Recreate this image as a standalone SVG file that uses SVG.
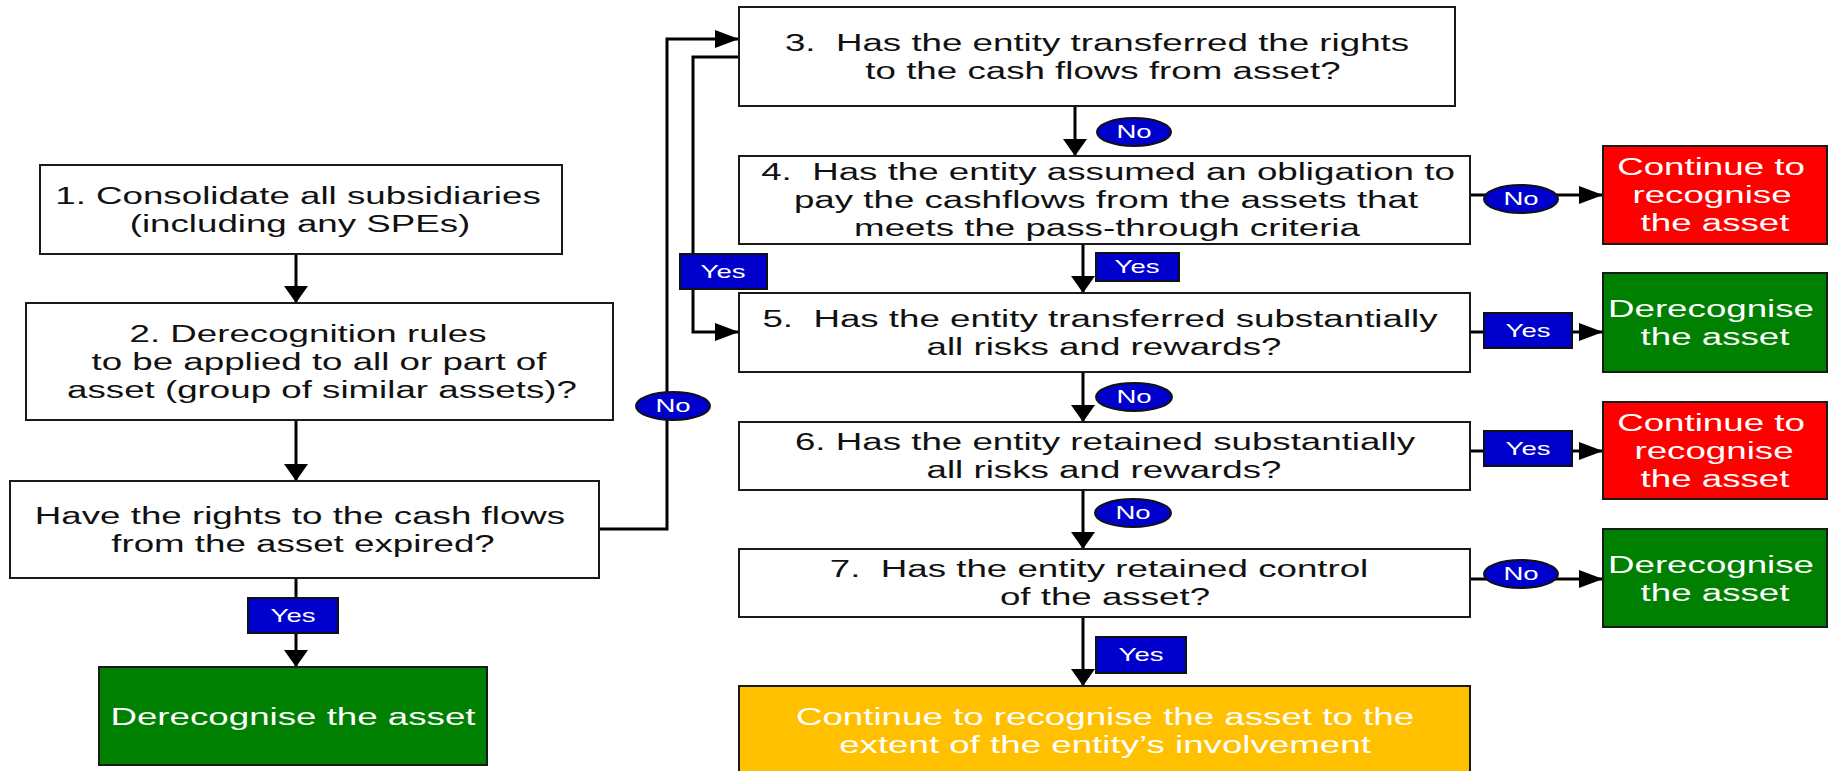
<svg xmlns="http://www.w3.org/2000/svg" width="1831" height="771" viewBox="0 0 1831 771">
<style>
.box{fill:#fff;stroke:#1a1a1a;stroke-width:2}
.red{fill:#ff0000;stroke:#1a1a1a;stroke-width:2}
.green{fill:#008000;stroke:#1a1a1a;stroke-width:2}
.orange{fill:#ffc000;stroke:#1a1a1a;stroke-width:2}
.t{font-family:"Liberation Sans",Arial,sans-serif;font-size:24px;text-anchor:middle;white-space:pre;fill:#111}
.w{fill:#fff}
.lab{fill:#0000cc;stroke:#111;stroke-width:2}
.lt{font-family:"Liberation Sans",Arial,sans-serif;font-size:18px;text-anchor:middle;fill:#fff}
.c{fill:none;stroke:#000;stroke-width:3}
.ch{fill:none;stroke:#000;stroke-width:3;marker-end:url(#ah)}
.cv{fill:none;stroke:#000;stroke-width:3;marker-end:url(#av)}
</style>
<defs>
<marker id="ah" markerUnits="userSpaceOnUse" markerWidth="24" markerHeight="18" refX="24" refY="9" orient="auto"><path d="M0,0 L24,9 L0,18 Z" fill="#000"/></marker>
<marker id="av" markerUnits="userSpaceOnUse" markerWidth="17" markerHeight="24" refX="17" refY="12" orient="auto"><path d="M0,0 L17,12 L0,24 Z" fill="#000"/></marker>
</defs>
<rect width="1831" height="771" fill="#fff"/>

<g id="connectors">
<path class="cv" d="M296,254 V303"/>
<path class="cv" d="M296,420 V481"/>
<path class="cv" d="M296,578 V667"/>
<path class="ch" d="M593,529 H667 V39 H739"/>
<path class="ch" d="M739,57 H693 V332 H739"/>
<path class="cv" d="M1075,106 V156"/>
<path class="ch" d="M1470,195 H1603"/>
<path class="cv" d="M1083,244 V293"/>
<path class="ch" d="M1470,332 H1603"/>
<path class="cv" d="M1083,372 V422"/>
<path class="ch" d="M1470,451 H1603"/>
<path class="cv" d="M1083,490 V549"/>
<path class="ch" d="M1470,579 H1603"/>
<path class="cv" d="M1083,617 V686"/>
</g>

<g id="n1"><rect class="box" x="40" y="165" width="522" height="89"/>
<text class="t" transform="translate(298,204) scale(1.53,1)">1. Consolidate all subsidiaries</text>
<text class="t" transform="translate(300,232) scale(1.53,1)">(including any SPEs)</text></g>

<g id="n2"><rect class="box" x="26" y="303" width="587" height="117"/>
<text class="t" transform="translate(308,342) scale(1.53,1)">2. Derecognition rules</text>
<text class="t" transform="translate(319,370) scale(1.53,1)">to be applied to all or part of</text>
<text class="t" transform="translate(322,398) scale(1.53,1)">asset (group of similar assets)?</text></g>

<g id="nq"><rect class="box" x="10" y="481" width="589" height="97"/>
<text class="t" transform="translate(300,524) scale(1.53,1)">Have the rights to the cash flows</text>
<text class="t" transform="translate(303,552) scale(1.53,1)">from the asset expired?</text></g>

<g id="g1"><rect class="green" x="99" y="667" width="388" height="98"/>
<text class="t w" transform="translate(293,725) scale(1.53,1)">Derecognise the asset</text></g>

<g id="n3"><rect class="box" x="739" y="7" width="716" height="99"/>
<text class="t" transform="translate(1097,51) scale(1.53,1)">3.  Has the entity transferred the rights</text>
<text class="t" transform="translate(1103,79) scale(1.53,1)">to the cash flows from asset?</text></g>

<g id="n4"><rect class="box" x="739" y="156" width="731" height="88"/>
<text class="t" transform="translate(1108,180) scale(1.53,1)">4.  Has the entity assumed an obligation to</text>
<text class="t" transform="translate(1106,208) scale(1.53,1)">pay the cashflows from the assets that</text>
<text class="t" transform="translate(1107,236) scale(1.53,1)">meets the pass-through criteria</text></g>

<g id="n5"><rect class="box" x="739" y="293" width="731" height="79"/>
<text class="t" transform="translate(1100,327) scale(1.53,1)">5.  Has the entity transferred substantially</text>
<text class="t" transform="translate(1104,355) scale(1.53,1)">all risks and rewards?</text></g>

<g id="n6"><rect class="box" x="739" y="422" width="731" height="68"/>
<text class="t" transform="translate(1105,450) scale(1.53,1)">6. Has the entity retained substantially</text>
<text class="t" transform="translate(1104,478) scale(1.53,1)">all risks and rewards?</text></g>

<g id="n7"><rect class="box" x="739" y="549" width="731" height="68"/>
<text class="t" transform="translate(1099,577) scale(1.53,1)">7.  Has the entity retained control</text>
<text class="t" transform="translate(1105,605) scale(1.53,1)">of the asset?</text></g>

<g id="no"><rect class="orange" x="739" y="686" width="731" height="95"/>
<text class="t w" transform="translate(1105,725) scale(1.53,1)">Continue to recognise the asset to the</text>
<text class="t w" transform="translate(1105,753) scale(1.53,1)">extent of the entity’s involvement</text></g>

<g id="r1"><rect class="red" x="1603" y="146" width="224" height="98"/>
<text class="t w" transform="translate(1711,175) scale(1.53,1)">Continue to</text>
<text class="t w" transform="translate(1712,203) scale(1.53,1)">recognise</text>
<text class="t w" transform="translate(1715,231) scale(1.53,1)">the asset</text></g>

<g id="g2"><rect class="green" x="1603" y="273" width="224" height="99"/>
<text class="t w" transform="translate(1711,317) scale(1.53,1)">Derecognise</text>
<text class="t w" transform="translate(1715,345) scale(1.53,1)">the asset</text></g>

<g id="r2"><rect class="red" x="1603" y="402" width="224" height="97"/>
<text class="t w" transform="translate(1711,431) scale(1.53,1)">Continue to</text>
<text class="t w" transform="translate(1714,459) scale(1.53,1)">recognise</text>
<text class="t w" transform="translate(1715,487) scale(1.53,1)">the asset</text></g>

<g id="g3"><rect class="green" x="1603" y="529" width="224" height="98"/>
<text class="t w" transform="translate(1711,573) scale(1.53,1)">Derecognise</text>
<text class="t w" transform="translate(1715,601) scale(1.53,1)">the asset</text></g>

<g id="labels">
<g id="l1"><rect class="lab" x="248" y="598" width="90" height="35"/><text class="lt" transform="translate(293,622) scale(1.53,1)">Yes</text></g>
<g id="l2"><ellipse class="lab" cx="673" cy="406" rx="37" ry="14"/><text class="lt" transform="translate(673,412) scale(1.53,1)">No</text></g>
<g id="l3"><rect class="lab" x="680" y="254" width="87" height="35"/><text class="lt" transform="translate(723,278) scale(1.53,1)">Yes</text></g>
<g id="l4"><ellipse class="lab" cx="1134" cy="132" rx="37" ry="14"/><text class="lt" transform="translate(1134,138) scale(1.53,1)">No</text></g>
<g id="l5"><ellipse class="lab" cx="1521" cy="199" rx="37" ry="14"/><text class="lt" transform="translate(1521,205) scale(1.53,1)">No</text></g>
<g id="l6"><rect class="lab" x="1096" y="253" width="83" height="28"/><text class="lt" transform="translate(1137,273) scale(1.53,1)">Yes</text></g>
<g id="l7"><rect class="lab" x="1484" y="313" width="88" height="35"/><text class="lt" transform="translate(1528,337) scale(1.53,1)">Yes</text></g>
<g id="l8"><ellipse class="lab" cx="1134" cy="397" rx="38" ry="14"/><text class="lt" transform="translate(1134,403) scale(1.53,1)">No</text></g>
<g id="l9"><rect class="lab" x="1484" y="431" width="88" height="35"/><text class="lt" transform="translate(1528,455) scale(1.53,1)">Yes</text></g>
<g id="l10"><ellipse class="lab" cx="1133" cy="513" rx="38" ry="14"/><text class="lt" transform="translate(1133,519) scale(1.53,1)">No</text></g>
<g id="l11"><ellipse class="lab" cx="1521" cy="574" rx="37" ry="14"/><text class="lt" transform="translate(1521,580) scale(1.53,1)">No</text></g>
<g id="l12"><rect class="lab" x="1096" y="637" width="90" height="36"/><text class="lt" transform="translate(1141,661) scale(1.53,1)">Yes</text></g>
</g>
</svg>
